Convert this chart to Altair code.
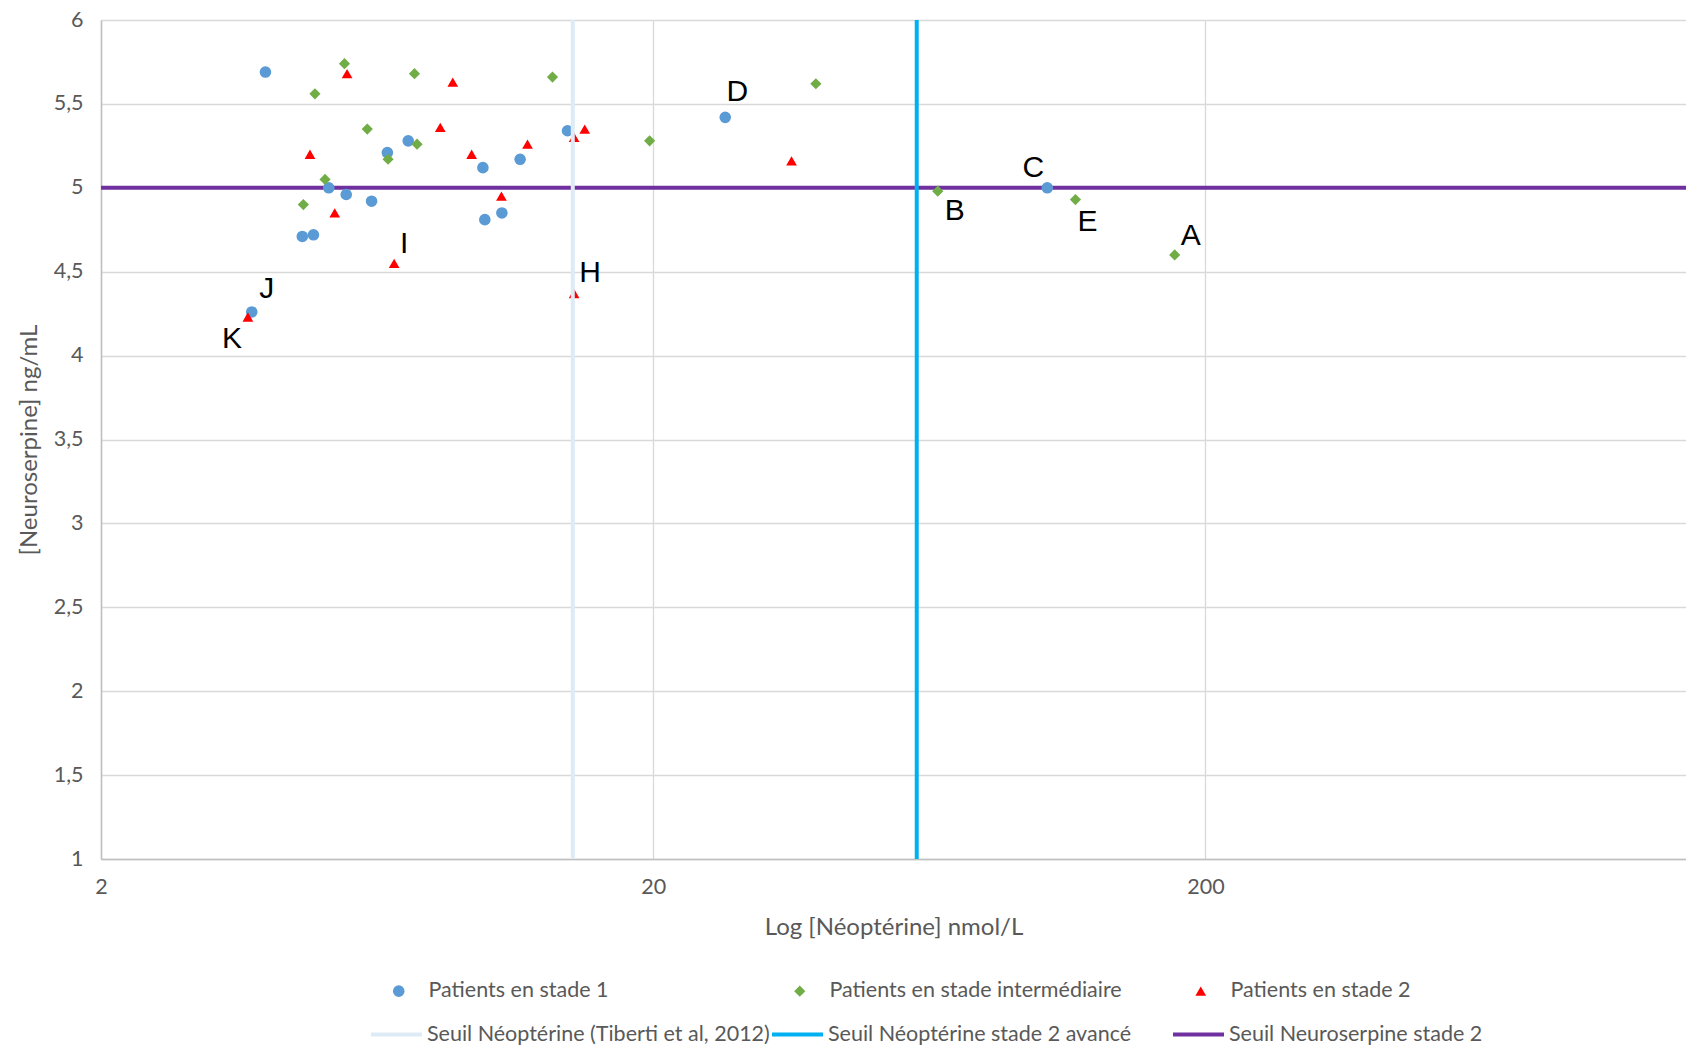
import altair as alt
import pandas as pd

# ---------------- data ----------------
groups = ["Patients en stade 1", "Patients en stade intermédiaire", "Patients en stade 2"]

stade1_x = [3.97, 4.63, 4.85, 5.17, 5.56, 6.18, 6.60, 7.20, 9.83, 9.91, 10.64, 11.48, 13.99, 27.0, 103.4, 3.75]
stade1_y = [5.69, 4.71, 4.72, 5.00, 4.96, 4.92, 5.21, 5.28, 5.12, 4.81, 4.85, 5.17, 5.34, 5.42, 5.00, 4.26]
stade1_lbl = ["", "", "", "", "", "", "", "", "", "", "", "", "", "D", "C", "J"]

inter_x = [5.52, 4.88, 7.39, 13.14, 6.07, 7.47, 6.62, 5.09, 4.65, 19.7, 39.4, 65.5, 116.3, 175.9]
inter_y = [5.74, 5.56, 5.68, 5.66, 5.35, 5.26, 5.17, 5.05, 4.90, 5.28, 5.62, 4.98, 4.93, 4.60]
inter_lbl = ["", "", "", "", "", "", "", "", "", "", "", "B", "E", "A"]

stade2_x = [5.58, 8.67, 8.23, 4.78, 9.38, 11.84, 15.03, 14.38, 10.62, 5.30, 6.79, 14.38, 3.69, 35.6]
stade2_y = [5.68, 5.63, 5.36, 5.20, 5.20, 5.26, 5.35, 5.30, 4.95, 4.85, 4.55, 4.37, 4.23, 5.16]
stade2_lbl = ["", "", "", "", "", "", "", "", "", "", "I", "H", "K", ""]

seuils = ["Seuil Néoptérine (Tiberti et al, 2012)", "Seuil Néoptérine stade 2 avancé", "Seuil Neuroserpine stade 2"]
seuil_neopterine = [14.3, 60]
seuil_neuroserpine = [5]

x_ticks = [2, 20, 200]
y_ticks = [1, 1.5, 2, 2.5, 3, 3.5, 4, 4.5, 5, 5.5, 6]

# ---------------- styles ----------------
group_colors = ["#5B9BD5", "#70AD47", "#FF0000"]
group_shapes = ["circle", "diamond", "triangle-up"]
group_sizes = [135, 115, 185]
seuil_colors = ["#DDEBF7", "#00B0F0", "#7030A0"]
label_offsets = {"A": (16, -19), "B": (17, 20), "C": (-14, -20), "D": (12, -25), "E": (12, 22),
                 "H": (16, -21), "I": (10, -19), "J": (15, -23), "K": (-16, 22)}
FONT = "Lato"
TXT = "#595959"
LBL = 21.5
TTL = 24

# ---------------- tables ----------------
frames = []
for g, xs, ys, ls in zip(groups, [stade1_x, inter_x, stade2_x], [stade1_y, inter_y, stade2_y],
                         [stade1_lbl, inter_lbl, stade2_lbl]):
    frames.append(pd.DataFrame({"groupe": g, "x": xs, "y": ys, "label": ls}))
points_df = pd.concat(frames, ignore_index=True)
label_df = points_df[points_df["label"] != ""]

vrules_df = pd.DataFrame({"seuil": seuils[:2], "x": seuil_neopterine})
hrules_df = pd.DataFrame({"seuil": seuils[2:], "y": seuil_neuroserpine})

# ---------------- scales / axes ----------------
W, H = 1585, 839
x_scale = alt.Scale(type="log", domain=[2, 1483], nice=False)
y_scale = alt.Scale(domain=[1, 6], nice=False)
x_axis = alt.Axis(title="Log [Néoptérine] nmol/L", values=x_ticks, format="d", labelPadding=17,
                  titlePadding=18, grid=True, labelFlush=False)
y_axis = alt.Axis(title="[Neuroserpine] ng/mL", values=y_ticks,
                  labelExpr="replace(format(datum.value, '~g'), '.', ',')",
                  labelPadding=18, titlePadding=12, grid=True)
X = lambda: alt.X("x:Q", scale=x_scale, axis=x_axis)
Y = lambda: alt.Y("y:Q", scale=y_scale, axis=y_axis)

stroke_enc = alt.Stroke("seuil:N", scale=alt.Scale(domain=seuils, range=seuil_colors),
                        legend=alt.Legend(title=None, orient="none", legendX=268, legendY=987,
                                          direction="horizontal", columns=3, gridAlign="all",
                                          columnPadding=-6, symbolType="stroke", symbolSize=2600,
                                          symbolStrokeWidth=4, labelOffset=3, labelFont=FONT,
                                          labelFontSize=LBL, labelColor=TXT, labelLimit=0))

hrule = alt.Chart(hrules_df).mark_rule(strokeWidth=4).encode(y=Y(), stroke=stroke_enc)
vrule = alt.Chart(vrules_df).mark_rule(strokeWidth=4).encode(x=X(), stroke=stroke_enc)

points = alt.Chart(points_df).mark_point(filled=True, opacity=1).encode(
    x=X(), y=Y(),
    color=alt.Color("groupe:N", scale=alt.Scale(domain=groups, range=group_colors),
                    legend=alt.Legend(title=None, orient="none", legendX=287, legendY=960,
                                      direction="horizontal", columns=3, gridAlign="all",
                                      columnPadding=68, symbolSize=110, labelOffset=19,
                                      labelFont=FONT, labelFontSize=LBL, labelColor=TXT, labelLimit=0)),
    shape=alt.Shape("groupe:N", scale=alt.Scale(domain=groups, range=group_shapes)),
    size=alt.Size("groupe:N", scale=alt.Scale(domain=groups, range=group_sizes), legend=None),
)

texts = []
for letter, (dx, dy) in label_offsets.items():
    texts.append(
        alt.Chart(label_df).transform_filter(alt.datum.label == letter)
        .mark_text(dx=dx, dy=dy, font="Liberation Sans", fontSize=30, color="black",
                   align="center", baseline="middle")
        .encode(x=X(), y=Y(), text="label:N")
    )

chart = alt.layer(hrule, points, vrule, *texts).properties(
    width=W, height=H,
    padding={"left": 93, "top": 12, "right": 0, "bottom": 186},
    autosize=alt.AutoSizeParams(type="none"),
).configure_view(stroke=None).configure_axis(
    gridColor="#D9D9D9", gridWidth=1.3, domainColor="#BFBFBF", domainWidth=1.5, ticks=False,
    labelFont=FONT, titleFont=FONT, labelFontSize=LBL, titleFontSize=TTL, labelColor=TXT,
    titleColor=TXT, titleFontWeight="normal",
)

chart.save("out.html", embed_options={"renderer": "svg", "actions": False})
